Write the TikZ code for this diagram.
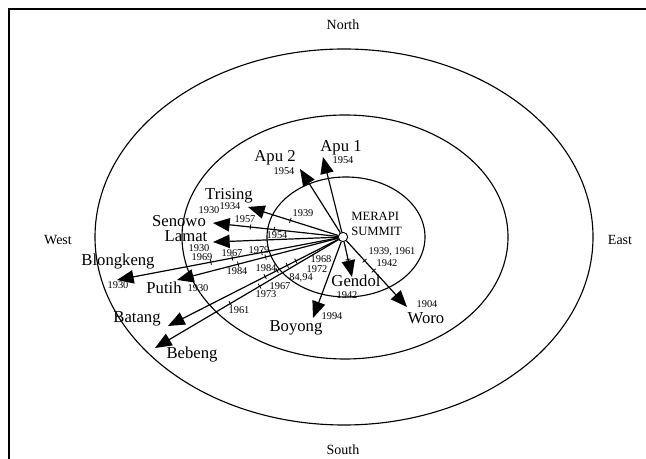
\documentclass[tikz,border=0pt]{standalone}
\usepackage{fontspec}
\setmainfont{Liberation Serif}
\usetikzlibrary{arrows.meta}

\begin{document}
\begin{tikzpicture}[
    x=0.75pt, y=-0.75pt,
    ring/.style={draw=black, line width=0.85pt},
    flow/.style={-{Triangle[length=12.5pt, width=10pt]}, line width=0.9pt, black},
    yeartick/.style={draw, sloped, minimum height=4pt, minimum width=0pt, inner sep=0pt, line width=0.6pt},
    summit/.style={draw, circle, fill=white, line width=0.7pt, minimum size=7pt, inner sep=0pt},
    station/.style={font=\fontsize{12.5}{14}\selectfont, inner sep=0pt},
    year/.style={font=\fontsize{7.8}{9}\selectfont, inner sep=0pt},
    compass/.style={font=\fontsize{10.5}{12}\selectfont, inner sep=0pt}
]

% Fix the picture size
\useasboundingbox (0,0) rectangle (646,459);

% Frame (left and top edges only)
\draw[line width=1.1pt] (9,459) -- (9,9) -- (646,9);

% Draw the three zones
\draw[ring] (344,237) ellipse [x radius=186.75pt, y radius=141pt];
\draw[ring] (345,237) ellipse [x radius=122.25pt, y radius=91.5pt];
\draw[ring] (346,237) ellipse [x radius=59.25pt, y radius=45pt];

% Compass directions
\node[compass] (north) at (343,25) {North};
\node[compass] (south) at (343,450) {South};
\node[compass] (west) at (58,240) {West};
\node[compass] (east) at (620,240) {East};

% Summit
\node[summit] (summit) at (343,237) {};
\node[anchor=west, align=left, inner sep=0pt, font=\fontsize{9.5}{11}\selectfont] (summitlabel) at (351,224) {MERAPI\\SUMMIT};

% Define coordinates for the arrow tips
\coordinate (apuone) at (323,157);
\coordinate (aputwo) at (300,169);
\coordinate (trising) at (248,207);
\coordinate (senowo) at (213,223);
\coordinate (lamat) at (213,242);
\coordinate (blongkeng) at (117,280);
\coordinate (putih) at (177,280);
\coordinate (batang) at (168,326);
\coordinate (bebeng) at (155,348);
\coordinate (boyong) at (313,318);
\coordinate (gendol) at (352,277);
\coordinate (woro) at (407,307);

% Draw the flow directions
\draw[flow] (summit) -- (apuone);
\draw[flow] (summit) -- (aputwo);
\draw[flow] (summit) -- node[yeartick, pos=0.53] (ttrising) {} (trising);
\draw[flow] (summit) -- node[yeartick, pos=0.51] (tsenowoa) {}
                        node[yeartick, pos=0.70] (tsenowob) {} (senowo);
\draw[flow] (summit) -- (lamat);
\draw[flow] (summit) -- node[yeartick, pos=0.345] (tblonga) {}
                        node[yeartick, pos=0.478] (tblongb) {}
                        node[yeartick, pos=0.575] (tblongc) {} (blongkeng);
\draw[flow] (summit) -- node[yeartick, pos=0.45] (tputiha) {}
                        node[yeartick, pos=0.62] (tputihb) {} (putih);
\draw[flow] (summit) -- node[yeartick, pos=0.25] (tbatanga) {}
                        node[yeartick, pos=0.30] (tbatangb) {}
                        node[yeartick, pos=0.36] (tbatangc) {}
                        node[yeartick, pos=0.43] (tbatangd) {} (batang);
\draw[flow] (summit) -- node[yeartick, pos=0.43] (tbebenga) {}
                        node[yeartick, pos=0.59] (tbebengb) {} (bebeng);
\draw[flow] (summit) -- (boyong);
\draw[flow] (summit) -- node[yeartick, pos=0.5] (tgendol) {} (gendol);
\draw[flow] (summit) -- node[yeartick, pos=0.3] (tworoa) {}
                        node[yeartick, pos=0.45] (tworob) {} (woro);

% Station names
\node[station] (napuone) at (341,148) {Apu 1};
\node[station] (naputwo) at (275,158) {Apu 2};
\node[station] (ntrising) at (229,196) {Trising};
\node[station] (nsenowo) at (179,221) {Senowo};
\node[station] (nlamat) at (186,236) {Lamat};
\node[station] (nblongkeng) at (118,262) {Blongkeng};
\node[station] (nputih) at (164,288) {Putih};
\node[station] (nbatang) at (137,319) {Batang};
\node[station] (nbebeng) at (192,355) {Bebeng};
\node[station] (nboyong) at (296,328) {Boyong};
\node[station] (ngendol) at (356,281) {Gendol};
\node[station] (nworo) at (426,318) {Woro};

% Years at the stations
\node[year] (yapuone) at (343,160) {1954};
\node[year] (yaputwo) at (284,171) {1954};
\node[year] (ytrising) at (230,206) {1934};
\node[year] (ysenowo) at (209,210) {1930};
\node[year] (ylamat) at (199,248) {1930};
\node[year] (yblongkeng) at (118,285) {1930};
\node[year] (yputih) at (198,288) {1930};
\node[year] (yboyong) at (332,316) {1994};
\node[year] (ygendol) at (347,295) {1942};
\node[year] (yworo) at (427,304) {1904};

% Years along the flows
\node[year] (ytrisingmid) at (303,213) {1939};
\node[year] (ysenowoa) at (245,219) {1957};
\node[year] (ysenowob) at (277,235) {1954};
\node[year] (yblonga) at (202,257) {1969};
\node[year] (yblongb) at (232,253) {1967};
\node[year] (yblongc) at (259,250) {1979};
\node[year] (yputiha) at (237,271) {1984};
\node[year] (yputihb) at (266,268) {1984};
\node[year] (ybatanga) at (321,259) {1968};
\node[year] (ybatangb) at (317,269) {1972};
\node[year] (ybatangc) at (301,278) {84,94};
\node[year] (ybatangd) at (280,286) {1967};
\node[year] (ybebenga) at (266,294) {1973};
\node[year] (ybebengb) at (239,310) {1961};
\node[year] (yworoa) at (392,252) {1939, 1961};
\node[year] (yworob) at (387,263) {1942};

\end{tikzpicture}
\end{document}
